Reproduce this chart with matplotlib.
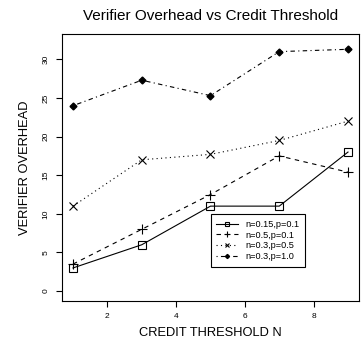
import matplotlib
matplotlib.use('Agg')
import matplotlib.pyplot as plt

plt.rcParams['font.family'] = ['Liberation Sans', 'DejaVu Sans']

credit_n = [1, 3, 5, 7, 9]
s_015_01 = [3.0, 6.0, 11.0, 11.0, 18.0]
s_05_01 = [3.5, 8.0, 12.5, 17.5, 15.4]
s_03_05 = [11.0, 17.0, 17.7, 19.5, 22.0]
s_03_10 = [24.0, 27.3, 25.3, 31.0, 31.3]
labels = ['n=0.15,p=0.1', 'n=0.5,p=0.1', 'n=0.3,p=0.5', 'n=0.3,p=1.0']
xticks = [2, 4, 6, 8]
yticks = [0, 5, 10, 15, 20, 25, 30]

fig = plt.figure(figsize=(3.62, 3.45), dpi=100)
ax = fig.add_axes([62/362, 1-301/345, (359-62)/362, (301-34)/345])

lw = 0.8
ax.plot(credit_n, s_015_01, color='black', lw=lw, ls='-', marker='s', ms=5.5,
        mfc='none', mew=0.8, label=labels[0])
ax.plot(credit_n, s_05_01, color='black', lw=lw, ls=(0, (4, 4)), marker='+', ms=7,
        mew=0.8, label=labels[1])
ax.plot(credit_n, s_03_05, color='black', lw=lw, ls=(0, (1, 3)), marker='x', ms=5.5,
        mew=0.8, label=labels[2])
ax.plot(credit_n, s_03_10, color='black', lw=lw, ls=(0, (1, 3, 4, 3)), marker='D', ms=3.5,
        mfc='black', label=labels[3])

ax.set_xlim(0.68, 9.32)
ax.set_ylim(-1.28, 33.28)
ax.set_xticks(xticks)
ax.set_yticks(yticks)
ax.tick_params(direction='out', length=4, width=0.8, labelsize=6)
ax.tick_params(axis='x', pad=5)
ax.tick_params(axis='y', pad=5)
for lab in ax.get_yticklabels():
    lab.set_rotation(90)
    lab.set_va('center')
for sp in ax.spines.values():
    sp.set_linewidth(0.8)

ax.set_title('Verifier Overhead vs Credit Threshold', fontsize=11, pad=10)
ax.set_xlabel('CREDIT THRESHOLD N', fontsize=9.3, labelpad=5)
ax.set_ylabel('VERIFIER OVERHEAD', fontsize=9.3, labelpad=8)

leg = ax.legend(loc='lower left', bbox_to_anchor=(0.5, 0.128), fontsize=6.6,
                frameon=True, fancybox=False, framealpha=1, edgecolor='black',
                borderpad=0.6, handlelength=2.4, labelspacing=0.2, handletextpad=0.8,
                markerscale=0.6, borderaxespad=0)
leg.get_frame().set_linewidth(0.8)

fig.savefig('out.png', dpi=100)
